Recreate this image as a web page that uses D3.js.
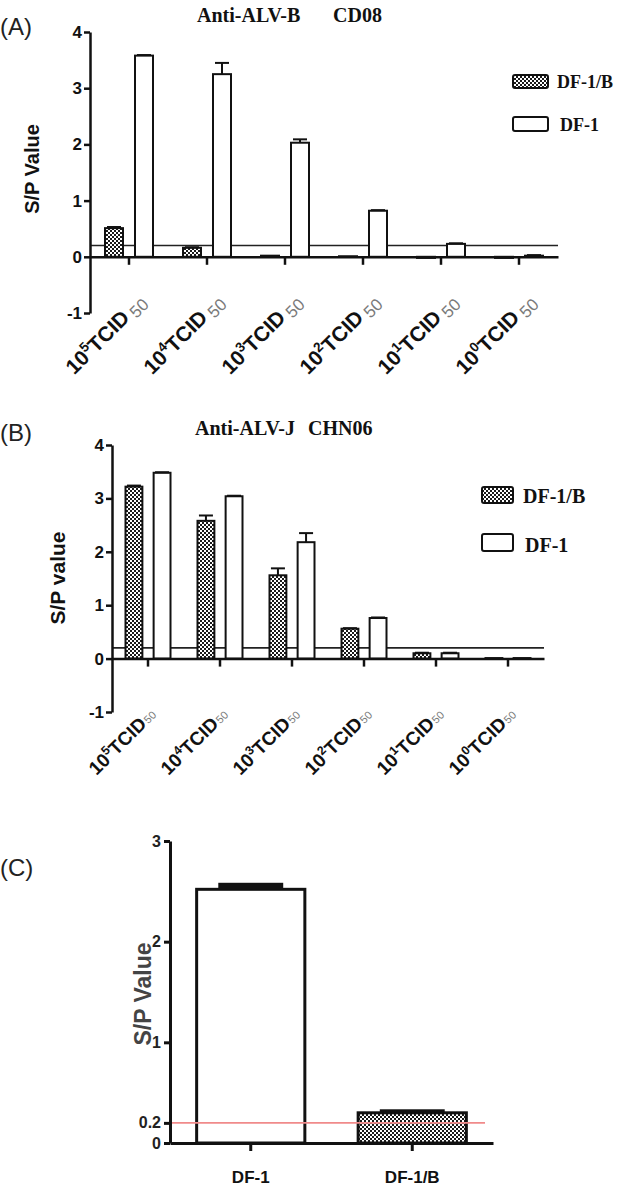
<!DOCTYPE html>
<html><head><meta charset="utf-8">
<script src="https://cdn.jsdelivr.net/npm/d3@7"></script>
<style>body{margin:0;background:#fff} svg{display:block}</style>
</head><body>
<svg id="c" width="622" height="1192"></svg>
<script>
// ---------- data ----------
const groupExp = ["5","4","3","2","1","0"];
const seriesNames = ["DF-1/B","DF-1"];
const yTicksAB = [-1,0,1,2,3,4];
const cutoff = 0.2;

const aDF1B     = [0.51, 0.16, 0.02, 0.01, -0.02, -0.02];
const aDF1BErr  = [0.02, 0.01, 0.00, 0.00, 0.00, 0.00];
const aDF1      = [3.58, 3.25, 2.03, 0.82, 0.23, 0.02];
const aDF1Err   = [0.01, 0.20, 0.06, 0.01, 0.01, 0.01];

const bDF1B     = [3.22, 2.58, 1.56, 0.56, 0.10, 0.01];
const bDF1BErr  = [0.02, 0.10, 0.13, 0.01, 0.01, 0.00];
const bDF1      = [3.48, 3.04, 2.18, 0.76, 0.10, 0.01];
const bDF1Err   = [0.01, 0.01, 0.17, 0.01, 0.01, 0.00];

const cCats = ["DF-1","DF-1/B"];
const cVals = [2.52, 0.30];
const cErr  = [0.05, 0.02];
const yTicksC = [0, 0.2, 1, 2, 3];

// ---------- setup ----------
const SANS = "'Liberation Sans', Arial, sans-serif";
const SERIF = "'Liberation Serif', 'Times New Roman', serif";
const svg = d3.select("#c");
const defs = svg.append("defs");
const pat = defs.append("pattern").attr("id","chk").attr("width",4).attr("height",4)
  .attr("patternUnits","userSpaceOnUse");
pat.append("rect").attr("width",4).attr("height",4).attr("fill","#fff");
pat.append("rect").attr("width",2).attr("height",2).attr("fill","#1a1a1a");
pat.append("rect").attr("x",2).attr("y",2).attr("width",2).attr("height",2).attr("fill","#1a1a1a");

function panelLabel(txt, x, y){
  svg.append("text").attr("x",x).attr("y",y).attr("font-family",SANS)
    .attr("font-size",24).attr("fill","#222").text(txt);
}

function groupedPanel(o){
  const g = svg.append("g");
  const y = d3.scaleLinear().domain([-1,4]).range([o.yb, o.yt]);
  const x = d3.scaleBand().domain(groupExp).range([o.xl, o.xr]);
  const xs = d3.scaleBand().domain(seriesNames).range([-o.half, o.half]).paddingInner(0.4);
  const series = [
    {name:"DF-1/B", vals:o.df1b, errs:o.df1bErr, fill:"url(#chk)"},
    {name:"DF-1",   vals:o.df1,  errs:o.df1Err,  fill:"#fff"}
  ];
  // cutoff line
  g.append("line").attr("x1",o.xl).attr("x2",o.xr)
    .attr("y1",y(cutoff)).attr("y2",y(cutoff))
    .attr("stroke","#222").attr("stroke-width",1.6);
  // bars
  series.forEach(s=>{
    groupExp.forEach((e,i)=>{
      const v = s.vals[i];
      const cx = x(e) + x.bandwidth()/2 + xs(s.name) + xs.bandwidth()/2;
      const top = Math.min(y(v), y(0)), h = Math.max(Math.abs(y(v)-y(0)), 0.6);
      g.append("rect").attr("x",cx - xs.bandwidth()/2).attr("y",top)
        .attr("width",xs.bandwidth()).attr("height",h)
        .attr("fill",s.fill).attr("stroke","#111").attr("stroke-width",2);
      const er = s.errs[i];
      if (er > 0){
        g.append("line").attr("x1",cx).attr("x2",cx).attr("y1",y(v)).attr("y2",y(v+er))
          .attr("stroke","#111").attr("stroke-width",2);
        g.append("line").attr("x1",cx-7).attr("x2",cx+7).attr("y1",y(v+er)).attr("y2",y(v+er))
          .attr("stroke","#111").attr("stroke-width",2);
      }
    });
  });
  // y axis
  const ya = g.append("g").attr("transform",`translate(${o.xl},0)`)
    .call(d3.axisLeft(y).tickValues(yTicksAB).tickSize(6).tickSizeOuter(0).tickPadding(2)
      .tickFormat(d=>String(d)));
  ya.selectAll("path,line").attr("stroke","#111").attr("stroke-width",2.5);
  ya.selectAll("text").attr("font-family",SANS).attr("font-weight","bold")
    .attr("font-size",17).attr("fill","#111");
  // x axis at zero
  const xa = g.append("g").attr("transform",`translate(0,${y(0)})`)
    .call(d3.axisBottom(x).tickSize(8).tickSizeOuter(0).tickFormat(""));
  xa.selectAll("path,line").attr("stroke","#111").attr("stroke-width",2.5);
  // x labels
  groupExp.forEach(e=>{
    const t = g.append("text")
      .attr("transform",`translate(${x(e)+x.bandwidth()/2+o.lx},${y(0)+o.ly}) rotate(-45)`)
      .attr("text-anchor","end").attr("font-family",SANS).attr("font-weight","bold")
      .attr("fill","#111");
    t.append("tspan").attr("font-size",o.lfs).text("10");
    t.append("tspan").attr("font-size",o.lfs*0.65).attr("dy",-o.lfs*0.4).text(e);
    t.append("tspan").attr("font-size",o.lfs).attr("dy",o.lfs*0.4).text("TCID");
    t.append("tspan").attr("font-size",o.sfs).attr("font-weight","normal").attr("fill","#7a7a7a")
      .attr("dx",o.sdx).attr("dy",o.sdy).text("50");
  });
  // y title
  g.append("text").attr("transform",`translate(${o.ytx},${o.yty}) rotate(-90)`)
    .attr("text-anchor","middle").attr("font-family",SANS).attr("font-weight","bold")
    .attr("font-size",o.ytfs).attr("fill","#111").text(o.ytitle);
  // titles
  g.append("text").attr("x",o.t1x).attr("y",o.ty).attr("font-family",SERIF).attr("font-weight","bold")
    .attr("font-size",20).attr("fill","#111").text(o.t1);
  g.append("text").attr("x",o.t2x).attr("y",o.ty).attr("font-family",SERIF).attr("font-weight","bold")
    .attr("font-size",20).attr("fill","#111").text(o.t2);
  // legend
  o.leg.forEach((L,i)=>{
    g.append("rect").attr("x",L.x).attr("y",L.y).attr("width",L.w).attr("height",L.h).attr("rx",2)
      .attr("fill", i===0 ? "url(#chk)" : "#fff").attr("stroke","#111").attr("stroke-width",2);
    g.append("text").attr("x",L.tx).attr("y",L.ty).attr("font-family",SERIF).attr("font-weight","bold")
      .attr("font-size",o.legfs).attr("fill","#111").text(seriesNames[i]);
  });
}

// Panel A
panelLabel("(A)", 0, 35);
groupedPanel({
  yb:313, yt:32, xl:90, xr:558, half:24,
  df1b:aDF1B, df1bErr:aDF1BErr, df1:aDF1, df1Err:aDF1Err,
  lx:18, ly:46, lfs:21, sfs:17, sdx:4, sdy:4,
  ytitle:"S/P Value", ytx:39, yty:169, ytfs:20,
  t1:"Anti-ALV-B", t1x:197, t2:"CD08", t2x:333, ty:22,
  legfs:18,
  leg:[{x:513,y:75,w:35,h:13,tx:557,ty:88},{x:513,y:117,w:35,h:14,tx:560,ty:131}]
});

// Panel B
panelLabel("(B)", 0, 441);
groupedPanel({
  yb:712, yt:445, xl:112, xr:544, half:22.5,
  df1b:bDF1B, df1bErr:bDF1BErr, df1:bDF1, df1Err:bDF1Err,
  lx:9, ly:57, lfs:19, sfs:11, sdx:1, sdy:0,
  ytitle:"S/P value", ytx:65, yty:578, ytfs:21,
  t1:"Anti-ALV-J", t1x:195, t2:"CHN06", t2x:308, ty:435,
  legfs:20,
  leg:[{x:482,y:487,w:31,h:16,tx:523,ty:503},{x:482,y:534,w:31,h:17,tx:525,ty:552}]
});

// Panel C
panelLabel("(C)", 0, 876);
(function(){
  const g = svg.append("g");
  const y = d3.scaleLinear().domain([0,3]).range([1143, 841]);
  const x = d3.scaleBand().domain(cCats).range([170, 493]).paddingInner(0.33).paddingOuter(0.165);
  const fills = ["#fff","url(#chk)"];
  cCats.forEach((c,i)=>{
    const v = cVals[i];
    g.append("rect").attr("x",x(c)).attr("y",y(v)).attr("width",x.bandwidth()).attr("height",y(0)-y(v))
      .attr("fill",fills[i]).attr("stroke","#111").attr("stroke-width",3);
    const cx = x(c)+x.bandwidth()/2, cw = x.bandwidth()*0.6;
    g.append("line").attr("x1",cx).attr("x2",cx).attr("y1",y(v)).attr("y2",y(v+cErr[i]))
      .attr("stroke","#111").attr("stroke-width",3);
    g.append("rect").attr("x",cx-cw/2).attr("y",y(v+cErr[i])-1.5).attr("width",cw)
      .attr("height",Math.max(y(v)-y(v+cErr[i])+1.5,3)).attr("fill","#111");
  });
  g.append("line").attr("x1",170).attr("x2",485).attr("y1",y(cutoff)).attr("y2",y(cutoff))
    .attr("stroke","#f08a8a").attr("stroke-width",1.6);
  const ya = g.append("g").attr("transform","translate(170,0)")
    .call(d3.axisLeft(y).tickValues(yTicksC).tickSize(6).tickSizeOuter(0).tickPadding(3)
      .tickFormat(d=>String(d)));
  ya.selectAll("path,line").attr("stroke","#111").attr("stroke-width",3);
  ya.selectAll("text").attr("font-family",SANS).attr("font-weight","bold")
    .attr("font-size",16).attr("fill","#222");
  const xa = g.append("g").attr("transform",`translate(0,${y(0)})`)
    .call(d3.axisBottom(x).tickSize(8).tickSizeOuter(0).tickFormat(""));
  xa.selectAll("path,line").attr("stroke","#111").attr("stroke-width",3);
  cCats.forEach(c=>{
    g.append("text").attr("x",x(c)+x.bandwidth()/2).attr("y",1183).attr("text-anchor","middle")
      .attr("font-family",SANS).attr("font-weight","bold").attr("font-size",17).attr("fill","#111").text(c);
  });
  g.append("text").attr("transform","translate(151,994) rotate(-90)").attr("text-anchor","middle")
    .attr("font-family",SANS).attr("font-weight","bold").attr("font-size",23).attr("fill","#444")
    .text("S/P Value");
})();
</script>
</body></html>
